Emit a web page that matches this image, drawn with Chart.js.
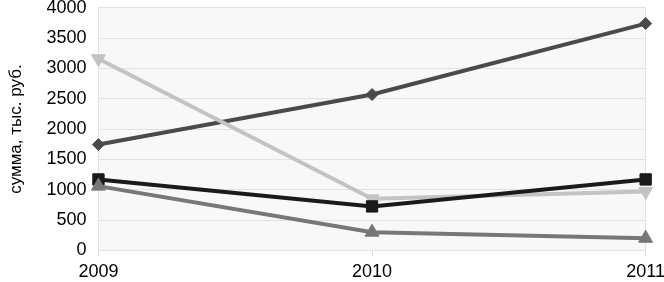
<!DOCTYPE html>
<html>
<head>
<meta charset="utf-8">
<script src="https://cdn.jsdelivr.net/npm/chart.js@4"></script>
<style>
html, body { margin: 0; padding: 0; background: #fff; overflow: hidden; }
#wrap { width: 670px; height: 303px; margin-top: -15px; }
</style>
</head>
<body>
<div id="wrap"><canvas id="sumChart"></canvas></div>
<script>
var years = ['2009', '2010', '2011'];
var seriesDiamond = [1745, 2570, 3740];
var seriesDown = [3160, 850, 970];
var seriesSquare = [1170, 725, 1170];
var seriesUp = [1060, 300, 200];

var bgPlugin = {
    id: 'plotBg',
    beforeDraw: function (chart) {
        var a = chart.chartArea, c = chart.ctx;
        c.save();
        c.fillStyle = '#f8f8f8';
        c.fillRect(a.left, a.top, a.right - a.left, a.bottom - a.top);
        c.restore();
    }
};

Chart.defaults.font.family = '"Liberation Sans", Arial, sans-serif';
Chart.defaults.color = '#000';

var ctx = document.getElementById('sumChart').getContext('2d');
var sumChart = new Chart(ctx, {
    type: 'line',
    data: {
        labels: years,
        datasets: [
            { data: seriesUp, borderColor: '#777', backgroundColor: '#777', pointStyle: 'triangle', pointRadius: 8 },
            { data: seriesSquare, borderColor: '#1a1a1a', backgroundColor: '#1a1a1a', pointStyle: 'rect', pointRadius: 8 },
            { data: seriesDown, borderColor: '#c3c3c3', backgroundColor: '#c3c3c3', pointStyle: 'triangle', pointRotation: 180, pointRadius: 8 },
            { data: seriesDiamond, borderColor: '#4a4a4a', backgroundColor: '#4a4a4a', pointStyle: 'rectRot', pointRadius: 6 }
        ]
    },
    options: {
        responsive: true,
        maintainAspectRatio: false,
        animation: false,
        elements: { line: { borderWidth: 4, tension: 0 }, point: { borderWidth: 1 } },
        layout: { padding: 0 },
        plugins: { legend: { display: false }, tooltip: { enabled: false } },
        scales: {
            x: {
                offset: false,
                grid: {
                    color: function (c) { return c.index === 1 ? 'rgba(0,0,0,0)' : '#e2e2e2'; },
                    tickColor: '#d8d8d8',
                    drawTicks: true, tickLength: 6
                },
                border: { color: '#e2e2e2' },
                ticks: { font: { size: 18 }, padding: 5, maxRotation: 0 }
            },
            y: {
                min: 0, max: 4000,
                ticks: { stepSize: 500, font: { size: 18 }, padding: 12, callback: function (v) { return String(v); } },
                grid: { color: '#e2e2e2', drawTicks: false },
                border: { color: '#e2e2e2' },
                title: { display: true, text: 'сумма, тыс. руб.', font: { size: 17 }, padding: { top: 6, bottom: 8 } }
            }
        }
    },
    plugins: [bgPlugin]
});
</script>
</body>
</html>
